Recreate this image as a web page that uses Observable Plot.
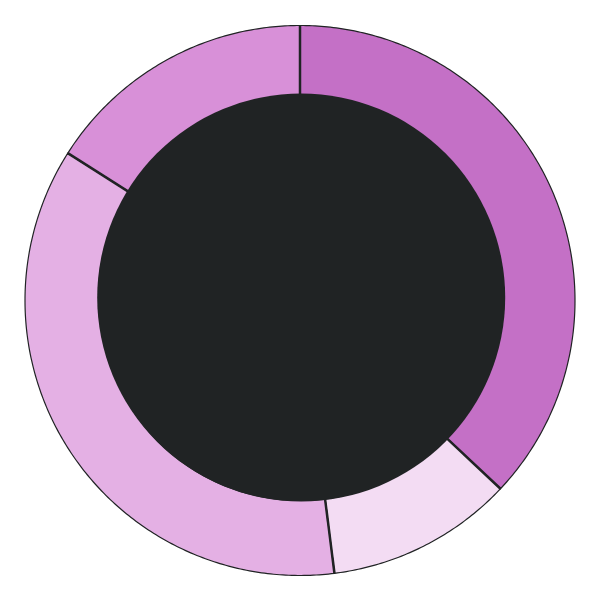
<!DOCTYPE html>
<html>
<head>
<meta charset="utf-8">
<script src="https://cdn.jsdelivr.net/npm/d3@7"></script>
<script src="https://cdn.jsdelivr.net/npm/@observablehq/plot@0.6"></script>
<style>
  html, body { margin: 0; padding: 0; background: #ffffff; }
  #chart { width: 600px; height: 600px; }
</style>
</head>
<body>
<div id="chart"></div>
<script>
// Data
const categories = ["A", "B", "C", "D"];
const values = [37, 11, 36, 16];
const colors = ["#c470c6", "#f3dcf3", "#e4b0e4", "#d890d8"];

// Layout
const outerR = 275;
const innerR = 200;
const holeR = 204;
const ink = "#202324";

const arcs = d3.pie().sort(null).value(d => d)(values);

// Slice outlines sampled along arcs (angle 0 at top, clockwise)
const slicePts = [];
arcs.forEach((a, i) => {
  const n = Math.max(8, Math.ceil((a.endAngle - a.startAngle) * 90));
  for (let k = 0; k <= n; k++) {
    const t = a.startAngle + (a.endAngle - a.startAngle) * k / n;
    slicePts.push({cat: categories[i], x: outerR * Math.sin(t), y: outerR * Math.cos(t)});
  }
  for (let k = n; k >= 0; k--) {
    const t = a.startAngle + (a.endAngle - a.startAngle) * k / n;
    slicePts.push({cat: categories[i], x: innerR * Math.sin(t), y: innerR * Math.cos(t)});
  }
});

const seps = arcs.map(a => ({
  x1: innerR * Math.sin(a.startAngle), y1: innerR * Math.cos(a.startAngle),
  x2: outerR * Math.sin(a.startAngle), y2: outerR * Math.cos(a.startAngle)
}));

const chart = Plot.plot({
  width: 600,
  height: 600,
  margin: 0,
  x: {domain: [-299.5, 300.5], axis: null},
  y: {domain: [-300, 300], axis: null},
  color: {domain: categories, range: colors},
  marks: [
    Plot.line(slicePts, {x: "x", y: "y", z: "cat", fill: "cat", stroke: ink, strokeWidth: 1.2, curve: "linear-closed"}),
    Plot.link(seps, {x1: "x1", y1: "y1", x2: "x2", y2: "y2", stroke: ink, strokeWidth: 2.5}),
    Plot.dot([{x: 1.2, y: 3}], {x: "x", y: "y", r: holeR, fill: ink, stroke: "none"})
  ]
});
document.getElementById("chart").appendChild(chart);
</script>
</body>
</html>
